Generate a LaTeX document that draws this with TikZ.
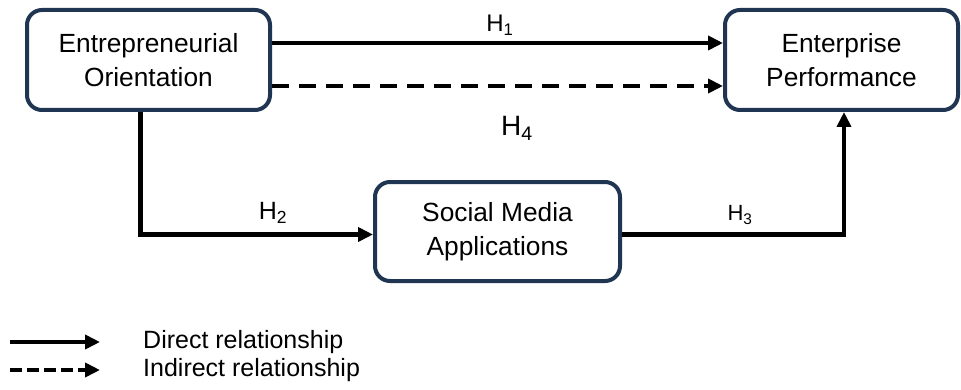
\documentclass[tikz,border=0pt]{standalone}
\usepackage{fontspec}
\setmainfont{Liberation Sans}
\usepackage{tikz}
\usepackage{xcolor}
\usetikzlibrary{arrows.meta}
\definecolor{boxnavy}{HTML}{1F3552}
\tikzset{
    concept-box/.style = {draw=boxnavy, fill=white, line width=4pt, rectangle, rounded corners=15pt, inner sep=0pt, align=center, font=\fontsize{26.3}{34.5}\selectfont},
    direct-arrow/.style = {line width=4.5pt, -{Triangle[length=15pt, width=14pt]}},
    indirect-arrow/.style = {direct-arrow, dash pattern=on 17pt off 10pt},
    hyp-label/.style = {inner sep=0pt, font=\fontsize{25}{30}\selectfont},
    legend-text/.style = {anchor=west, inner sep=0pt, font=\fontsize{25}{30}\selectfont},
}

\begin{document}
\begin{tikzpicture}[x=1pt, y=1pt]
\useasboundingbox (0,0) rectangle (961,389);

\node [concept-box, minimum width=243pt, minimum height=100pt] (eo) at (148.5,329) {Entrepreneurial\\Orientation};
\node [concept-box, minimum width=233pt, minimum height=100pt] (ep) at (841.5,329) {Enterprise\\Performance};
\node [concept-box, minimum width=245pt, minimum height=99pt] (sma) at (497.5,157.5) {Social Media\\Applications};

\draw [direct-arrow] ([yshift=17pt]eo.east) -- ([yshift=17pt]ep.west);
\draw [indirect-arrow] ([yshift=-26pt]eo.east) -- ([yshift=-26pt]ep.west);
\draw [direct-arrow] ([xshift=-8pt]eo.south) |- ([yshift=-3pt]sma.west);
\draw [direct-arrow] ([yshift=-3pt]sma.east) -| ([xshift=2.5pt]ep.south);

\node [hyp-label, font=\fontsize{24}{30}\selectfont] (h1) at (500,364) {H\textsubscript{1}};
\node [hyp-label] (h2) at (273,176) {H\textsubscript{2}};
\node [hyp-label, font=\fontsize{22}{30}\selectfont] (h3) at (740,174) {H\textsubscript{3}};
\node [hyp-label, font=\fontsize{28}{30}\selectfont] (h4) at (517,261) {H\textsubscript{4}};

% legend
\coordinate (direct-start) at (10,47);
\coordinate (direct-end) at (100,47);
\coordinate (indirect-start) at (10,19);
\coordinate (indirect-end) at (100,19);
\draw [direct-arrow, line width=4pt] (direct-start) -- (direct-end);
\draw [direct-arrow, line width=4pt, dash pattern=on 12pt off 5pt] (indirect-start) -- (indirect-end);
\node [legend-text] (direct-label) at (143,47) {Direct relationship};
\node [legend-text] (indirect-label) at (143,19) {Indirect relationship};
\end{tikzpicture}
\end{document}
